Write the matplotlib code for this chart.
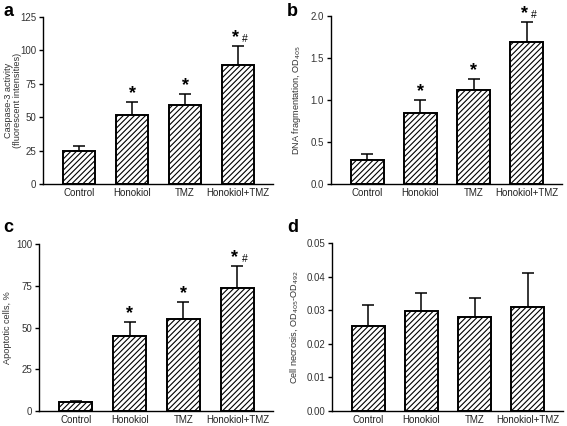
import matplotlib
matplotlib.use("Agg")
import matplotlib.pyplot as plt

plt.rcParams["font.family"] = ["Liberation Sans", "DejaVu Sans"]
plt.rcParams["hatch.linewidth"] = 0.8

groups = ["Control", "Honokiol", "TMZ", "Honokiol+TMZ"]

caspase = [24.8, 51.8, 59.0, 88.8]
caspase_err = [3.9, 9.3, 8.0, 14.5]

dna_frag = [0.28, 0.84, 1.12, 1.69]
dna_frag_err = [0.08, 0.16, 0.13, 0.24]

apoptotic = [5.2, 45.0, 55.0, 73.8]
apoptotic_err = [0.6, 8.0, 10.0, 13.2]

necrosis = [0.0254, 0.0297, 0.0279, 0.0309]
necrosis_err = [0.0062, 0.0054, 0.0056, 0.0102]

signif = ["", "*", "*", "*#"]
no_signif = ["", "", "", ""]

W, H = 567, 426


def px_axes(fig, left, right, bottom, top):
    return fig.add_axes([left / W, (H - bottom) / H, (right - left) / W, (bottom - top) / H])


def panel(ax, vals, errs, marks, ymax, yticks, fmt, ylabel, label_x):
    x = range(len(groups))
    ax.bar(x, vals, width=0.62, color="white", edgecolor="black",
           linewidth=1.4, hatch="//////", zorder=2)
    ax.errorbar(x, vals, yerr=[[0] * len(vals), errs], fmt="none",
                ecolor="black", elinewidth=1.1, capsize=4, capthick=1.1, zorder=1)
    for i, m in enumerate(marks):
        if not m:
            continue
        top = vals[i] + errs[i]
        if m == "*":
            ax.text(i, top, "*", ha="center", va="bottom", fontsize=13,
                    fontweight="bold")
        else:
            ax.text(i - 0.05, top, "*", ha="center", va="bottom", fontsize=13,
                    fontweight="bold")
            ax.text(i + 0.13, top + ymax * 0.012, "#", ha="center", va="bottom",
                    fontsize=7.5)
    ax.set_xlim(-0.68, 3.66)
    ax.set_ylim(0, ymax)
    ax.set_yticks(yticks)
    ax.set_yticklabels([fmt.format(t) for t in yticks])
    ax.set_xticks(list(x))
    ax.set_xticklabels(groups)
    ax.spines["top"].set_visible(False)
    ax.spines["right"].set_visible(False)
    ax.spines["left"].set_linewidth(1.0)
    ax.spines["bottom"].set_linewidth(1.0)
    ax.tick_params(axis="x", length=0, pad=3, labelsize=7, labelcolor="#222222")
    ax.tick_params(axis="y", length=3, width=1, direction="out", pad=2,
                   labelsize=7, labelcolor="#333333")
    ax.set_ylabel(ylabel, fontsize=6.6, color="#333333", linespacing=1.0)
    ax.yaxis.set_label_coords(label_x, 0.5)


fig = plt.figure(figsize=(W / 100, H / 100), dpi=100)

ax_a = px_axes(fig, 43, 273, 184, 17)
panel(ax_a, caspase, caspase_err, signif, 125, [0, 25, 50, 75, 100, 125],
      "{:g}", "Caspase-3 activity\n(fluorescent intensities)", -0.093)

ax_b = px_axes(fig, 331, 562, 184, 16)
panel(ax_b, dna_frag, dna_frag_err, signif, 2.0, [0, 0.5, 1.0, 1.5, 2.0],
      "{:.1f}", "DNA fragmentation, OD$_{405}$", -0.12)

ax_c = px_axes(fig, 39, 273, 411, 244)
panel(ax_c, apoptotic, apoptotic_err, signif, 100, [0, 25, 50, 75, 100],
      "{:g}", "Apoptotic cells, %", -0.115)

ax_d = px_axes(fig, 332, 563, 411, 243)
panel(ax_d, necrosis, necrosis_err, no_signif, 0.05,
      [0, 0.01, 0.02, 0.03, 0.04, 0.05], "{:.2f}",
      "Cell necrosis, OD$_{405}$-OD$_{492}$", -0.138)

for letter, (px, py) in zip("abcd", [(3, 16), (287, 16), (3, 232), (287, 232)]):
    fig.text(px / W, 1 - py / H, letter, fontsize=13, fontweight="bold",
             ha="left", va="baseline")

fig.savefig("out.png", dpi=100)
